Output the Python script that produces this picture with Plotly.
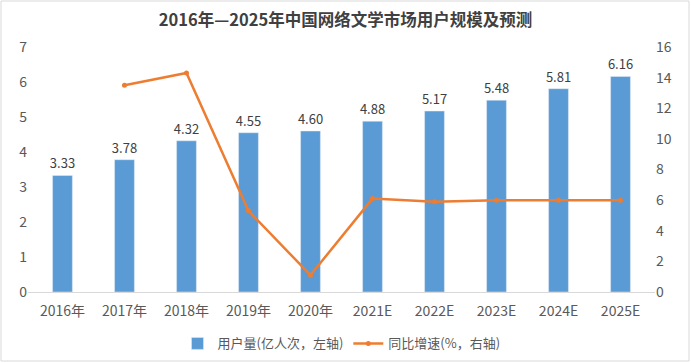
import plotly.graph_objects as go

categories = ["2016年", "2017年", "2018年", "2019年", "2020年", "2021E", "2022E", "2023E", "2024E", "2025E"]
users = [3.33, 3.78, 4.32, 4.55, 4.60, 4.88, 5.17, 5.48, 5.81, 6.16]
growth = [None, 13.5, 14.3, 5.3, 1.1, 6.1, 5.9, 6.0, 6.0, 6.0]
left_ticks = [0, 1, 2, 3, 4, 5, 6, 7]
right_ticks = [0, 2, 4, 6, 8, 10, 12, 14, 16]

FONT = "Noto Sans CJK SC, Microsoft YaHei, sans-serif"

fig = go.Figure()
fig.add_trace(go.Bar(
    x=categories, y=users, name="用户量(亿人次，左轴)",
    marker=dict(color="#5b9bd5"),
    text=[f"{v:.2f}" for v in users], textposition="outside",
    textfont=dict(size=13, color="#404040"), cliponaxis=False,
    constraintext="none",
))
fig.add_trace(go.Scatter(
    x=categories, y=growth, name="同比增速(%，右轴)", yaxis="y2",
    mode="lines+markers", line=dict(color="#ed7d31", width=2.5),
    marker=dict(size=5, color="#ed7d31"),
))

fig.update_layout(
    width=691, height=363,
    margin=dict(l=28, r=36, t=47, b=71, autoexpand=False),
    paper_bgcolor="white", plot_bgcolor="white",
    font=dict(family=FONT, size=14, color="#595959"),
    title=dict(text="<b>2016年—2025年中国网络文学市场用户规模及预测</b>",
               x=0.5, xanchor="center", y=0.945, yanchor="middle",
               font=dict(size=16.5, color="#404040", family=FONT)),
    bargap=0.68,
    xaxis=dict(showgrid=False, showline=True, linecolor="#d9d9d9", linewidth=1,
               ticks="", ticklabelstandoff=6, tickfont=dict(size=14, color="#595959")),
    yaxis=dict(range=[0, 7], tickvals=left_ticks, showgrid=False, zeroline=False,
               showline=False, ticks="", tickfont=dict(size=14, color="#595959")),
    yaxis2=dict(range=[0, 16], tickvals=right_ticks, overlaying="y", side="right",
                showgrid=False, zeroline=False, showline=False, ticks="",
                tickfont=dict(size=14, color="#595959")),
    legend=dict(orientation="h", x=0.5, xanchor="center", y=-0.21, yanchor="middle",
                font=dict(size=13, color="#595959"), itemwidth=30),
    showlegend=True,
    shapes=[dict(type="rect", xref="paper", yref="paper",
                 x0=-27 / 627, x1=(689 - 28) / 627, y0=-(361 - 292) / 245, y1=(292 - 1) / 245,
                 line=dict(color="#d9d9d9", width=1), layer="below")],
)

fig.write_html("out.html", config={"displayModeBar": False},
               post_script="document.body.style.margin='0';")
